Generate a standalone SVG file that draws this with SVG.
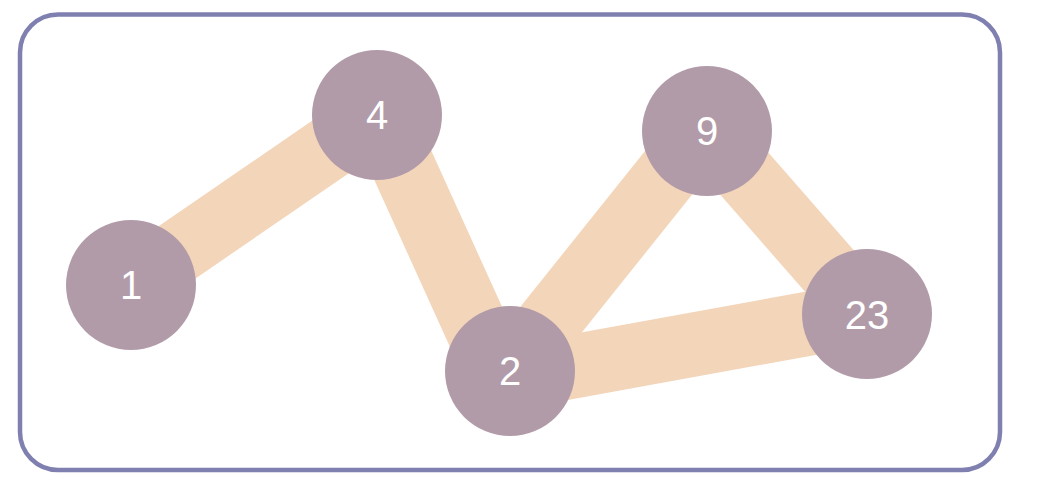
<svg xmlns="http://www.w3.org/2000/svg" width="1052" height="486" viewBox="0 0 1052 486">
<style>
.frame{fill:#ffffff;stroke:#7f80b0;stroke-width:4.5}
.edge{stroke:#f3d5ba;stroke-width:64;fill:none}
.node circle{fill:#b29ba8}
.node text{fill:#ffffff;font-family:"Liberation Sans",Arial,sans-serif;font-size:40px;text-anchor:middle}
</style>
<rect class="frame" x="20" y="14.5" width="980" height="455.5" rx="38" ry="38"/>
<g id="connectors">
<line class="edge" x1="131" y1="284" x2="377" y2="115"/>
<line class="edge" x1="380" y1="115" x2="496" y2="371"/>
<line class="edge" x1="510" y1="371" x2="702" y2="131"/>
<line class="edge" x1="510" y1="378" x2="867" y2="313"/>
<line class="edge" x1="707" y1="131" x2="867" y2="314"/>
</g>
<g id="node-1" class="node"><circle cx="131" cy="285" r="65"/><text x="131" y="299">1</text></g>
<g id="node-4" class="node"><circle cx="377" cy="115" r="65"/><text x="377" y="129">4</text></g>
<g id="node-2" class="node"><circle cx="510" cy="371" r="65"/><text x="510" y="385">2</text></g>
<g id="node-9" class="node"><circle cx="707" cy="131" r="65"/><text x="707" y="145">9</text></g>
<g id="node-23" class="node"><circle cx="867" cy="314" r="65"/><text x="867" y="328.5">23</text></g>
</svg>
